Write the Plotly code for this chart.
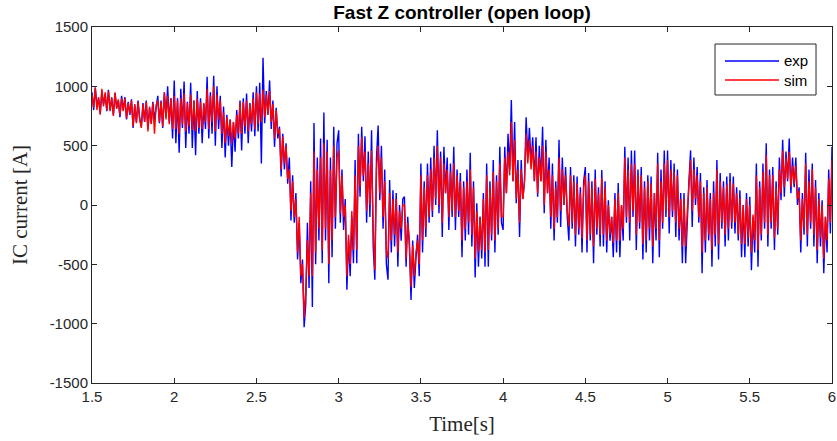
import numpy as np
import plotly.graph_objects as go

# time grid: 1.50 .. 6.00 s, step 0.01 s
t_start, t_step = 1.5, 0.01

exp_vals = [
    950, 800, 990, 830, 900, 770, 960, 850, 930, 790,
    970, 800, 900, 760, 940, 820, 880, 740, 920, 800,
    910, 720, 870, 760, 890, 650, 840, 700, 880, 730,
    660, 860, 700, 880, 640, 820, 690, 870, 720, 840,
    920, 690, 880, 650, 950, 740, 1000, 700, 900, 560,
    1050, 520, 900, 440, 980, 650, 1040, 480, 870, 600,
    1030, 480, 880, 420, 960, 600, 900, 520, 850, 640,
    1080, 560, 950, 600, 1090, 500, 1000, 640, 920, 480,
    830, 400, 760, 500, 720, 320, 700, 450, 800, 560,
    880, 460, 900, 600, 940, 520, 860, 620, 950, 580,
    1000, 620, 1030, 350, 1240, 690, 960, 760, 1050, 640,
    880, 490, 820, 560, 660, 240, 600, 300, 520, 180,
    400, -130, 250, -150, 100, -460, -150, -660, -460, -1030,
    -830, -150, -700, 200, -860, 690, -500, 400, -300, 560,
    -490, 780, -300, 550, -660, 400, -440, 660, -200, 520,
    630, -150, 300, -210, 50, -715, -300, -600, -100, -490,
    380, -490, 600, 70, 660, 200, 580, -150, 450, -100,
    630, -350, -630, 400, 670, 40, 500, -200, 300, -500,
    -630, 210, -400, 125, -350, 100, -520, 0, -300, 50,
    70, -520, -100, -350, -800, -300, -700, -450, -250, -600,
    350, -400, 200, -270, 350, -150, 400, -100, 500, 0,
    630, -70, 450, -270, 490, 100, 400, -210, 350, -100,
    490, -210, 300, -100, 270, -440, 200, -300, 300, -250,
    440, -350, 200, -610, 15, -520, -100, -450, 100, -520,
    350, -520, 200, -300, 380, -400, 250, -250, 490, -150,
    -210, 490, 100, 600, 300, 885, 200, 700, 15, 380,
    -270, 380, 50, 200, 740, 400, 650, 350, 570, 200,
    570, 70, 500, 200, 660, -70, 550, 100, 400, -200,
    350, -300, 200, -150, 550, -185, 400, 0, 320, -100,
    -300, 320, -200, 250, -350, 240, -250, 150, -400, 200,
    320, -400, 270, -300, 200, -490, 300, -250, 150, -350,
    295, -350, 200, -400, 40, -300, -100, -440, 100, -400,
    185, -440, 0, -300, 490, -150, 400, -300, 460, -100,
    460, -380, 300, -200, 320, -460, 200, -400, 250, -300,
    240, -490, 100, -300, 440, -440, 300, -200, 460, -100,
    460, -240, 380, -100, 350, -270, 300, -300, 100, -490,
    100, -490, -100, 200, 460, -185, 400, 0, 320, -150,
    270, -575, 150, -400, 210, -300, 100, -520, 200, -350,
    380, -460, 270, -200, 200, -350, 240, -300, 270, -200,
    240, -240, 150, -300, 125, -440, 0, -440, 100, -350,
    70, -550, -100, -400, 350, -520, 200, -300, 350, -200,
    520, -350, 300, -200, 320, -380, 200, -250, 400, 40,
    550, 70, 450, 200, 560, 100, 400, 150, 400, 0,
    150, -400, 100, -250, 440, -350, 300, -200, 350, -350,
    210, -490, 100, -350, 40, -575, -100, -400, 300, -240,
    490,
]

sim_vals = [
    930, 820, 990, 800, 910, 760, 980, 830, 950, 800,
    960, 790, 910, 750, 950, 810, 890, 760, 900, 790,
    900, 730, 860, 770, 880, 660, 850, 690, 870, 720,
    650, 850, 700, 870, 620, 830, 680, 860, 600, 840,
    880, 700, 870, 660, 950, 720, 920, 680, 900, 640,
    920, 640, 880, 600, 900, 680, 940, 620, 860, 660,
    930, 630, 880, 620, 900, 650, 870, 640, 860, 700,
    980, 640, 920, 700, 1000, 620, 930, 720, 880, 600,
    780, 520, 740, 580, 720, 520, 700, 560, 760, 600,
    860, 600, 870, 660, 880, 620, 850, 680, 900, 640,
    950, 680, 940, 700, 970, 740, 930, 760, 960, 700,
    850, 560, 800, 600, 640, 300, 580, 350, 500, 220,
    300, -50, 200, -100, 50, -400, -100, -600, -500, -950,
    -720, -300, -600, 100, -600, 450, -400, 300, -200, 400,
    -380, 520, -200, 450, -500, 300, -300, 500, -100, 400,
    460, -70, 250, -100, 0, -600, -250, -500, -50, -380,
    250, -380, 500, 150, 570, 250, 450, -50, 350, 0,
    460, -200, -550, 300, 500, 100, 400, -100, 200, -380,
    -450, 100, -300, 50, -250, 50, -400, -50, -200, 0,
    0, -450, -150, -300, -690, -340, -600, -400, -300, -500,
    250, -300, 150, -200, 250, -100, 300, -50, 400, 50,
    500, 0, 400, -150, 350, 100, 300, -100, 280, -50,
    350, -100, 250, -50, 200, -300, 150, -200, 200, -150,
    300, -250, 150, -450, -50, -400, -100, -380, 50, -400,
    250, -380, 150, -250, 280, -300, 200, -200, 350, -100,
    -100, 400, 100, 450, 250, 700, 200, 550, 50, 300,
    -150, 300, 50, 200, 600, 350, 550, 300, 500, 200,
    450, 100, 400, 200, 500, 0, 450, 100, 300, -100,
    250, -200, 150, -100, 400, -50, 300, 0, 250, -50,
    -180, 250, -150, 200, -250, 180, -200, 100, -280, 150,
    250, -300, 200, -250, 150, -350, 220, -200, 100, -250,
    230, -250, 150, -300, 0, -250, -100, -320, 50, -300,
    100, -300, 0, -200, 400, -100, 300, -150, 350, -50,
    350, -250, 250, -150, 250, -330, 150, -300, 200, -200,
    180, -350, 100, -200, 350, -300, 200, -150, 350, -50,
    380, -100, 300, -50, 280, -150, 250, -200, 50, -350,
    50, -350, -50, 150, 380, -50, 300, 50, 250, -100,
    200, -400, 100, -300, 150, -250, 50, -380, 100, -250,
    300, -330, 200, -150, 150, -250, 170, -200, 200, -150,
    180, -150, 100, -250, 60, -330, 0, -330, 50, -280,
    0, -400, -80, -300, 250, -380, 150, -250, 280, -150,
    420, -250, 250, -150, 250, -280, 150, -200, 300, 100,
    460, 150, 400, 220, 450, 150, 330, 180, 330, 50,
    120, -300, 50, -200, 350, -250, 200, -150, 300, -250,
    150, -380, 50, -280, 0, -450, -100, -300, 220, -150,
    380,
]

series_names = ["exp", "sim"]
series_colors = ["#0000FF", "#FF0000"]

x_ticks = [1.5, 2, 2.5, 3, 3.5, 4, 4.5, 5, 5.5, 6]
x_tick_labels = ["1.5", "2", "2.5", "3", "3.5", "4", "4.5", "5", "5.5", "6"]
y_ticks = [-1500, -1000, -500, 0, 500, 1000, 1500]
y_tick_labels = ["-1500", "-1000", "-500", "0", "500", "1000", "1500"]

t = t_start + t_step * np.arange(len(exp_vals))

fig = go.Figure()
for name, vals, col in zip(series_names, [exp_vals, sim_vals], series_colors):
    fig.add_trace(go.Scatter(x=t, y=vals, mode="lines", name=name,
                             line=dict(color=col, width=1.4), showlegend=False))

# MATLAB-style legend box (drawn in paper coordinates)
lx0, lx1, ly0, ly1 = 0.8419, 0.9784, 0.809, 0.9522
fig.add_shape(type="rect", xref="paper", yref="paper", x0=lx0, x1=lx1, y0=ly0, y1=ly1,
              line=dict(color="#262626", width=1), fillcolor="white", layer="above")
for name, col, yy in zip(series_names, series_colors, [0.9045, 0.8511]):
    fig.add_shape(type="line", xref="paper", yref="paper", x0=0.8554, x1=0.9284, y0=yy, y1=yy,
                  line=dict(color=col, width=1.5), layer="above")
    fig.add_annotation(xref="paper", yref="paper", x=0.9324, y=yy, text=name, showarrow=False,
                       xanchor="left", yanchor="middle",
                       font=dict(family="Liberation Sans, Arial", size=15, color="black"))

axis_common = dict(showline=True, linecolor="#262626", linewidth=1, mirror="ticks",
                   ticks="inside", ticklen=5, tickcolor="#262626", showgrid=False,
                   zeroline=False, automargin=False,
                   tickfont=dict(family="Liberation Sans, Arial", size=15, color="#262626"))

fig.update_layout(
    width=837, height=441,
    margin=dict(l=92, r=5, t=27, b=58),
    paper_bgcolor="white", plot_bgcolor="white",
    title=dict(text="<b>Fast Z controller (open loop)</b>", x=0.5, xref="paper",
               xanchor="center", y=1 - 12 / 441, yanchor="middle", yref="container",
               font=dict(family="Liberation Sans, Arial", size=19, color="black")),
    xaxis=dict(range=[1.5, 6], tickvals=x_ticks, ticktext=x_tick_labels,
               title=dict(text="Time[s]", font=dict(family="Liberation Serif, Times New Roman", size=21, color="#262626"), standoff=12),
               **axis_common),
    yaxis=dict(range=[-1500, 1500], tickvals=y_ticks, ticktext=y_tick_labels,
               title=dict(text="IC current [A]", font=dict(family="Liberation Serif, Times New Roman", size=21, color="#262626"), standoff=16),
               **axis_common),
    showlegend=False,
)

fig.write_html("out.html", config={"displayModeBar": False},
               post_script="document.body.style.margin='0';")
